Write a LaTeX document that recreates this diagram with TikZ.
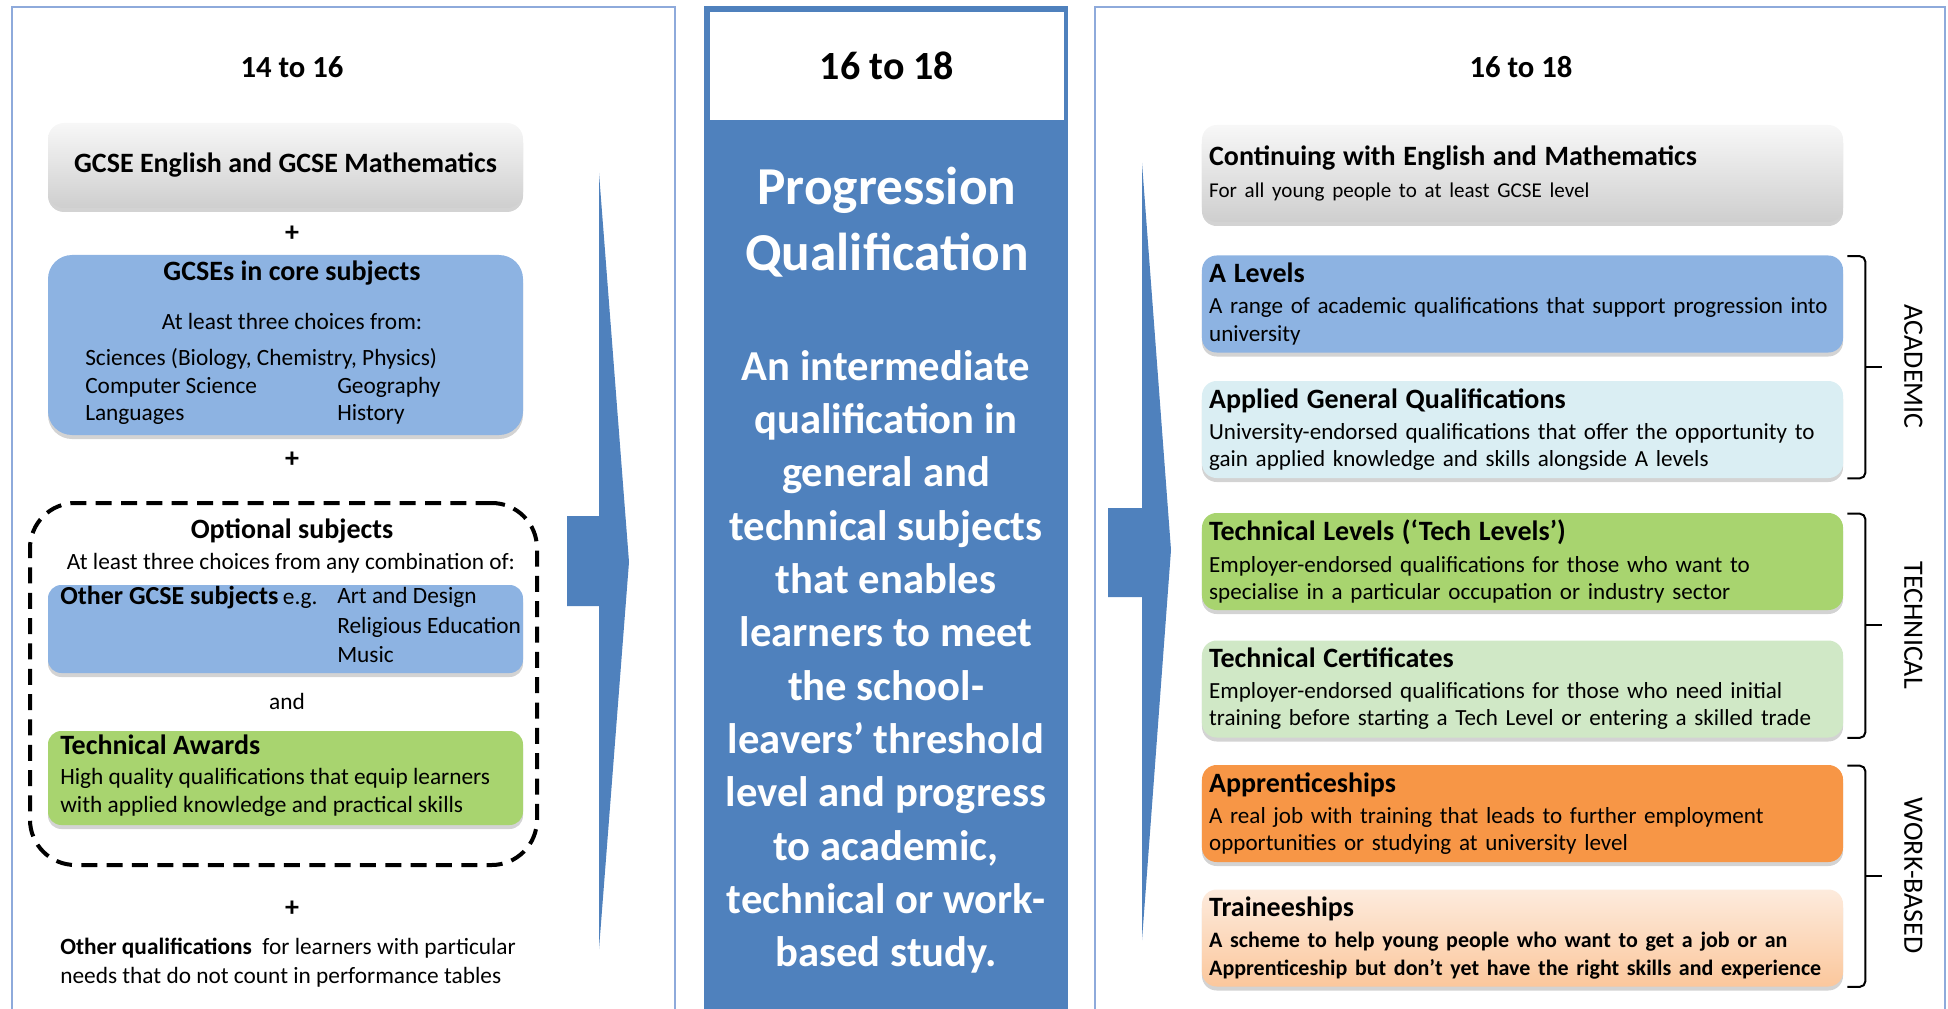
\documentclass[tikz,border=0pt]{standalone}
\usepackage{fontspec}
\setmainfont{Carlito}
\usetikzlibrary{calc,shadows}
\definecolor{qblue}{HTML}{4F81BD}
\definecolor{panelline}{HTML}{8EAADB}
\definecolor{coreblue}{HTML}{8DB3E2}
\definecolor{techgreen}{HTML}{A8D46F}
\definecolor{appliedcol}{HTML}{DAEEF3}
\definecolor{certcol}{HTML}{D0E8C6}
\definecolor{apprcol}{HTML}{F79646}
\definecolor{traitop}{HTML}{FDEBDD}
\definecolor{traibot}{HTML}{FBC79C}

\begin{document}
\begin{tikzpicture}[x=0.75pt, y=-0.75pt,
    panel/.style={draw=panelline, line width=1.5pt},
    shd/.style={drop shadow={opacity=0.35, shadow xshift=0pt, shadow yshift=-3pt}},
    lbox/.style={shd, minimum width=356.25pt, inner sep=0pt},
    rbox/.style={shd, rounded corners=11pt, minimum width=480.75pt,
      minimum height=72.75pt, text width=470pt, inner xsep=5.4pt,
      align=left, font=\fontsize{17.3}{20.3}\selectfont},
    hd/.style={font=\bfseries\fontsize{23}{28}\selectfont},
    ttl/.style={font=\bfseries\fontsize{21}{25}\selectfont, inner sep=0pt,
      text height=16pt, text depth=3pt},
    txt/.style={font=\fontsize{17.5}{21}\selectfont, inner sep=0pt,
      text height=13pt, text depth=2pt},
    side/.style={font=\fontsize{21}{25}\selectfont, rotate=-90},
    brk/.style={line width=1.5pt, rounded corners=4pt},
    contfill/.style={top color=gray!6, bottom color=gray!38},
    alevfill/.style={fill=coreblue},
    applfill/.style={fill=appliedcol},
    tlevfill/.style={fill=techgreen},
    tcertfill/.style={fill=certcol},
    apprfill/.style={fill=apprcol},
    traifill/.style={top color=traitop, bottom color=traibot}
  ]
  \useasboundingbox (0,0) rectangle (1948,1009);
  \clip (0,0) rectangle (1948,1009);

  % 14 to 16
  \draw[panel] (11.5,7) rectangle (675,1020);
  \node[hd] (lhead) at (292,67) {14 to 16};
  \node[lbox, contfill, rounded corners=12pt, minimum height=63.75pt,
    font=\bfseries\fontsize{21}{25}\selectfont] (eng) at (285.5,165.5)
    {GCSE English and GCSE Mathematics};
  \node[ttl] (plus1) at (292,233) {+};

  \node[lbox, fill=coreblue, rounded corners=18pt, minimum height=135pt] (core) at (285.5,345) {};
  \node[ttl] (coret) at (292,272) {GCSEs in core subjects};
  \node[txt] (corec) at (292,322) {At least three choices from:};
  \node[txt, anchor=west] (sci) at (85,358) {Sciences (Biology, Chemistry, Physics)};
  \node[txt, anchor=west] (comp) at (85,386) {Computer Science};
  \node[txt, anchor=west] (geo) at (337,386) {Geography};
  \node[txt, anchor=west] (lang) at (85,413) {Languages};
  \node[txt, anchor=west] (hist) at (337,413) {History};
  \node[ttl] (plus2) at (292,459) {+};

  \node[draw, line width=3pt, dash pattern=on 12pt off 7pt, rounded corners=34pt,
    minimum width=380.25pt, minimum height=271.5pt] (opt) at (283.5,684) {};
  \node[ttl] (optt) at (292,530) {Optional subjects};
  \node[txt] (optc) at (291,562) {At least three choices from any combination of:};
  \node[lbox, fill=coreblue, rounded corners=10pt, minimum height=66pt] (othg) at (285.5,629) {};
  \node[ttl, anchor=west, font=\bfseries\fontsize{19.5}{23}\selectfont] (othgt) at (60,596) {Other GCSE subjects};
  \node[txt, anchor=base west] (eg) at (othgt.base east) {\,e.g.};
  \node[txt, anchor=west] (art) at (337,596) {Art and Design};
  \node[txt, anchor=west] (rel) at (337,626) {Religious Education};
  \node[txt, anchor=west] (mus) at (337,655) {Music};
  \node[txt] (and) at (287,702) {and};
  \node[lbox, fill=techgreen, rounded corners=10pt, minimum height=70.5pt] (taw) at (285.5,778) {};
  \node[ttl, anchor=west] (tawt) at (60,746) {Technical Awards};
  \node[txt, anchor=west] (taw1) at (60,777) {High quality qualifications that equip learners};
  \node[txt, anchor=west] (taw2) at (60,805) {with applied knowledge and practical skills};
  \node[ttl] (plus3) at (292,908) {+};
  \node[txt, anchor=west] (oq1) at (60,947) {\textbf{Other qualifications}\ \ for learners with particular};
  \node[txt, anchor=west] (oq2) at (60,976) {needs that do not count in performance tables};

  \fill[qblue] (567,516) -- (599,516) -- (599,173) -- (629,562) -- (599,949)
    -- (599,606) -- (567,606) -- cycle;

  % progression qualification
  \fill[qblue] (704,6) rectangle (1068,1020);
  \node[fill=white, minimum width=265.5pt, minimum height=81pt,
    font=\bfseries\fontsize{30}{36}\selectfont] (mhead) at (887,66) {16 to 18};
  \node[white, align=center, font=\bfseries\fontsize{40}{49}\selectfont] (prog)
    at (887,222) {Progression\\Qualification};
  \node[white, align=center, font=\bfseries\fontsize{32}{40}\selectfont] (desc)
    at (886,662) {An intermediate\\qualification in\\general and\\technical subjects\\
    that enables\\learners to meet\\the school-\\leavers’ threshold\\level and progress\\
    to academic,\\technical or work-\\based study.};

  % 16 to 18
  \draw[panel] (1095,7) rectangle (1945,1020);
  \node[hd] (rhead) at (1521,67) {16 to 18};
  \fill[qblue] (1108,508) -- (1142,508) -- (1142,163) -- (1171,550) -- (1142,940)
    -- (1142,597) -- (1108,597) -- cycle;

  \foreach \n/\y/\f/\t/\a in {
    cont/173.5/contfill/{Continuing with English and Mathematics}/{\fontsize{15.8}{20.3}\selectfont For all young people to at least GCSE level},
    alev/304/alevfill/{A Levels}/{A range of academic qualifications that support progression into\\university},
    appl/429.5/applfill/{Applied General Qualifications}/{University-endorsed qualifications that offer the opportunity to\\gain applied knowledge and skills alongside A levels},
    tlev/561.5/tlevfill/{Technical Levels (‘Tech Levels’)}/{Employer-endorsed qualifications for those who want to\\specialise in a particular occupation or industry sector},
    tcert/689/tcertfill/{Technical Certificates}/{Employer-endorsed qualifications for those who need initial\\training before starting a Tech Level or entering a skilled trade},
    appr/813.5/apprfill/{Apprenticeships}/{A real job with training that leads to further employment\\opportunities or studying at university level},
    trai/938/traifill/{Traineeships}/{\bfseries\fontsize{16.5}{20.3}\selectfont A scheme to help young people who want to get a job or an\\Apprenticeship but don’t yet have the right skills and experience}
  } {
    \node[rbox, \f] (\n) at (1522.5,\y) {{\bfseries\fontsize{21}{23}\selectfont \t}\\[3pt]\a};
  }

  \foreach \a/\b/\s in {alev/appl/ACADEMIC, tlev/tcert/TECHNICAL, appr/trai/WORK-BASED} {
    \draw[brk] ($(\a.north east)+(4,1)$) -- ++(18,0) |- ($(\b.south east)+(4,0)$);
    \draw[brk] ($(\a.north east)!0.5!(\b.south east)+(22,0)$) coordinate (m\a) -- ++(17,0);
    \node[side] (l\a) at ($(m\a)+(48,0)$) {\s};
  }
\end{tikzpicture}
\end{document}
